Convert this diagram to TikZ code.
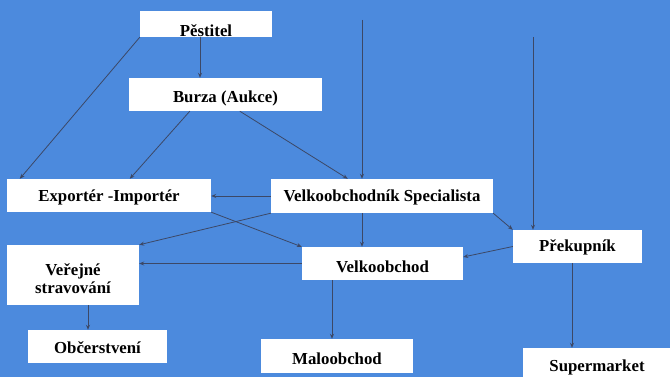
\documentclass[tikz,border=0pt]{standalone}
\usepackage{fontspec}
\setmainfont{Liberation Serif}
\usetikzlibrary{arrows.meta,calc}
\definecolor{bg}{RGB}{76,138,221}
\definecolor{ln}{RGB}{60,72,102}
\newcommand\lowtext[2][3.5pt]{\raisebox{-#1}[\height][\depth]{#2}}
\tikzset{
  box/.style={draw=none,fill=white,inner sep=0pt,align=center,
    font=\fontsize{16.8}{18}\selectfont\bfseries},
  arr/.style={draw=ln,line width=0.8pt,-{Stealth[length=5pt,width=4pt]}},
}
\begin{document}
\begin{tikzpicture}[x=1pt,y=-1pt]
\useasboundingbox (0,0) rectangle (670,377);
\clip (0,0) rectangle (670,377);
\fill[bg] (0,0) rectangle (670,377);
\node[box,minimum width=132pt,minimum height=26pt] (pes) at (206,24) {\lowtext[7pt]{Pěstitel}};
\node[box,minimum width=193pt,minimum height=33pt] (bur) at (225.5,94.5) {\lowtext{Burza (Aukce)}};
\node[box,minimum width=204pt,minimum height=33pt] (exp) at (109,195.5) {\lowtext[1.5pt]{Exportér -Importér}};
\node[box,minimum width=222pt,minimum height=34pt] (vsp) at (382,196) {\lowtext[1.5pt]{Velkoobchodník Specialista}};
\node[box,minimum width=132pt,minimum height=60pt] (ver) at (73,275) {\lowtext{Veřejné}\\\lowtext{stravování}};
\node[box,minimum width=161pt,minimum height=33pt] (vel) at (382.5,263.5) {\lowtext{Velkoobchod}};
\node[box,minimum width=129pt,minimum height=33pt] (pre) at (577.5,246.5) {\lowtext[1pt]{Překupník}};
\node[box,minimum width=139pt,minimum height=33pt] (obc) at (97.5,346.5) {\lowtext[1.5pt]{Občerstvení}};
\node[box,minimum width=152pt,minimum height=34pt] (mal) at (337,356) {\lowtext[3pt]{Maloobchod}};
\node[box,minimum width=148pt,minimum height=36pt] (sup) at (597,366) {\lowtext[1pt]{Supermarket}};
\coordinate (t1) at (362,20);
\coordinate (t2) at (533,37);
% connectors
\draw[arr] ([xshift=-6pt]pes.south) -- ([xshift=-6pt]pes.south |- bur.north);
\draw[arr] (pes.south west) -- ([xshift=13pt]exp.north west);
\draw[arr] ([xshift=61pt]bur.south west) -- ([xshift=123pt]exp.north west);
\draw[arr] ([xshift=111pt]bur.south west) -- ([xshift=77pt]vsp.north west);
\draw[arr] (t1) -- (t1 |- vsp.north);
\draw[arr] (t2) -- (t2 |- pre.north);
\draw[arr] (vsp.west) -- (exp.east |- vsp.west);
\draw[arr] (exp.south east) -- (vel.north west);
\draw[arr] (vsp.south west) -- (ver.north east);
\draw[arr] (vel.west) -- (ver.east |- vel.west);
\draw[arr] ([xshift=-20pt]vsp.south) -- ([xshift=-20pt]vsp.south |- vel.north);
\draw[arr] (vsp.south east) -- (pre.north west);
\draw[arr] (pre.west) -- ([yshift=6.5pt]vel.east);
\draw[arr] ([xshift=-5.5pt]pre.south) -- ([xshift=-5.5pt]pre.south |- sup.north);
\draw[arr] ([xshift=-50.5pt]vel.south) -- ([xshift=-50.5pt]vel.south |- mal.north);
\draw[arr] ([xshift=15pt]ver.south) -- ([xshift=15pt]ver.south |- obc.north);
\end{tikzpicture}
\end{document}
